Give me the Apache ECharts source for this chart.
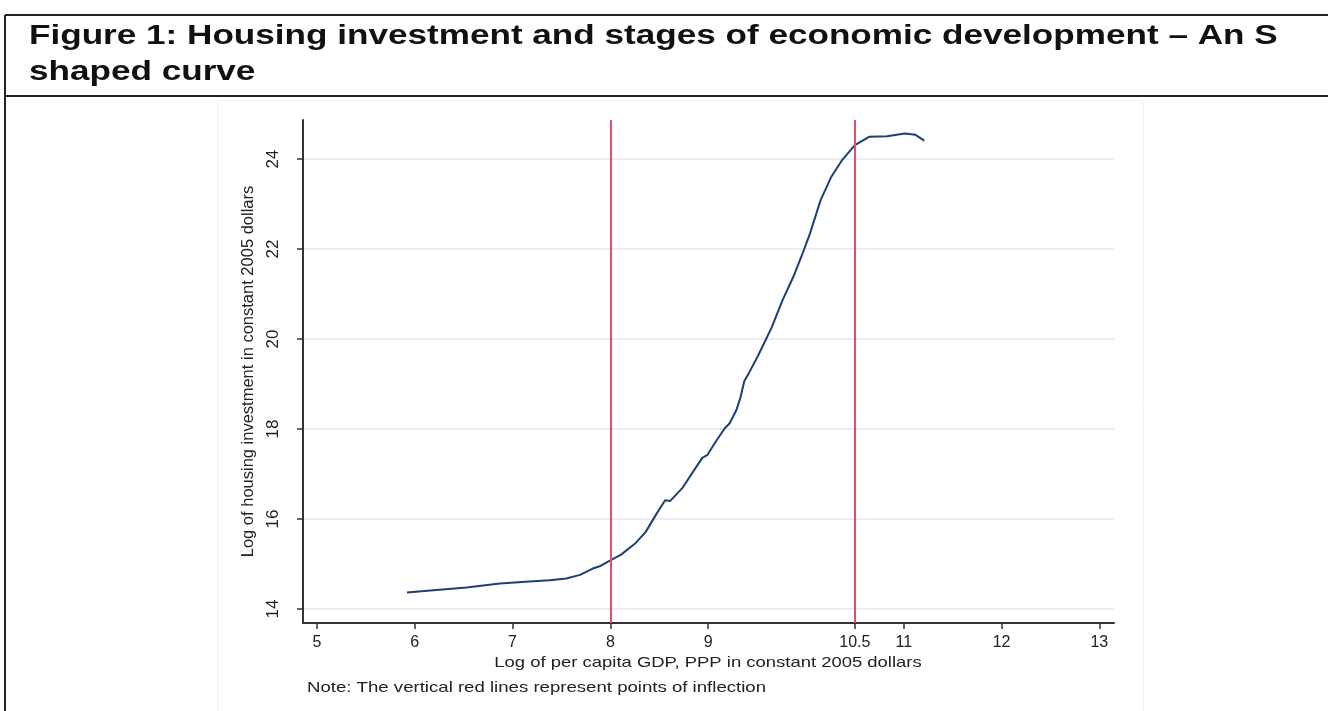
<!DOCTYPE html>
<html>
<head>
<meta charset="utf-8">
<title>Housing investment and stages of economic development</title>
<script src="https://cdn.jsdelivr.net/npm/echarts@6/dist/echarts.min.js"></script>
<style>
  html, body { margin: 0; padding: 0; background: #fff; }
  #chart { width: 1328px; height: 711px; }
</style>
</head>
<body>
<div id="chart"></div>
<script>
// log GDP per capita (x) and log housing investment (y)
var gdpLog = [5.92, 6.19, 6.53, 6.87, 7.21, 7.38, 7.55, 7.69, 7.82, 7.89, 8.0, 8.11, 8.25, 8.36, 8.47,
  8.56, 8.61, 8.74, 8.86, 8.94, 8.99, 9.08, 9.17, 9.22, 9.29, 9.33, 9.37, 9.42, 9.51, 9.65, 9.76,
  9.87, 9.97, 10.04, 10.15, 10.26, 10.37, 10.5, 10.65, 10.83, 11.01, 11.12, 11.21]
var housingLog = [14.37, 14.42, 14.48, 14.57, 14.62, 14.64, 14.68, 14.76, 14.9, 14.95, 15.08, 15.21, 15.45, 15.71, 16.11,
  16.42, 16.4, 16.7, 17.1, 17.36, 17.42, 17.73, 18.02, 18.13, 18.43, 18.7, 19.07, 19.26, 19.63, 20.26, 20.86,
  21.38, 21.93, 22.34, 23.09, 23.61, 23.98, 24.31, 24.5, 24.51, 24.57, 24.54, 24.41]
var inflectionPoints = [8, 10.5]
var xTicks = [5, 6, 7, 8, 9, 10.5, 11, 12, 13]
var yTicks = [14, 16, 18, 20, 22, 24]

var chart = echarts.init(document.getElementById('chart'))
var font = 'Liberation Sans, Arial, sans-serif'

var option = {
  animation: false,
  backgroundColor: '#fff',
  grid: { left: 303, right: 214, top: 120, bottom: 88 },
  graphic: [
    // boxed title and page frame
    { type: 'line', shape: { x1: 5, y1: 15, x2: 1328, y2: 15 }, style: { stroke: '#222', lineWidth: 2 } },
    { type: 'line', shape: { x1: 5, y1: 96, x2: 1328, y2: 96 }, style: { stroke: '#222', lineWidth: 2 } },
    { type: 'line', shape: { x1: 5, y1: 15, x2: 5, y2: 711 }, style: { stroke: '#222', lineWidth: 2 } },
    { type: 'rect', shape: { x: 218, y: 101, width: 925, height: 620 }, style: { fill: 'none', stroke: '#eceef5', lineWidth: 1 } },
    { type: 'text', x: 29, y: 22, scaleX: 1.254, style: { text: 'Figure 1: Housing investment and stages of economic development \u2013 An S', font: 'bold 28px ' + font, fill: '#111', textVerticalAlign: 'top' } },
    { type: 'text', x: 29, y: 58, scaleX: 1.254, style: { text: 'shaped curve', font: 'bold 28px ' + font, fill: '#111', textVerticalAlign: 'top' } },
    // x axis title and note
    { type: 'text', x: 708, y: 663, scaleX: 1.23, style: { text: 'Log of per capita GDP, PPP in constant 2005 dollars', font: '15px ' + font, fill: '#222', textAlign: 'center', textVerticalAlign: 'middle' } },
    { type: 'text', x: 307, y: 688, scaleX: 1.24, style: { text: 'Note: The vertical red lines represent points of inflection', font: '15px ' + font, fill: '#222', textVerticalAlign: 'middle' } }
  ],
  xAxis: {
    type: 'value',
    min: 4.857,
    max: 13.15,
    axisLine: { show: true, lineStyle: { color: '#333', width: 2 } },
    axisTick: { show: true, customValues: xTicks, length: 6, lineStyle: { color: '#333', width: 1.5 } },
    axisLabel: { customValues: xTicks, fontFamily: font, fontSize: 16, color: '#222', margin: 12 },
    splitLine: { show: false }
  },
  yAxis: {
    type: 'value',
    min: 13.69,
    max: 24.87,
    name: 'Log of housing investment in constant 2005 dollars',
    nameLocation: 'middle',
    nameGap: 41,
    nameTextStyle: { fontFamily: font, fontSize: 16.5, color: '#222' },
    axisLine: { show: true, lineStyle: { color: '#333', width: 2 } },
    axisTick: { show: true, customValues: yTicks, length: 6, lineStyle: { color: '#333', width: 1.5 } },
    axisLabel: { customValues: yTicks, rotate: 90, fontFamily: font, fontSize: 17, color: '#222', margin: 21 },
    splitLine: { show: true, lineStyle: { color: '#e3e7f2', width: 1.5 } }
  },
  series: [{
    type: 'line',
    data: gdpLog.map(function (g, i) { return [g, housingLog[i]] }),
    showSymbol: false,
    lineStyle: { color: '#1d3f72', width: 2 },
    markLine: {
      silent: true,
      symbol: 'none',
      label: { show: false },
      lineStyle: { color: '#e0506a', width: 2, type: 'solid' },
      data: inflectionPoints.map(function (v) { return { xAxis: v } })
    }
  }]
}
chart.setOption(option)
</script>
</body>
</html>
